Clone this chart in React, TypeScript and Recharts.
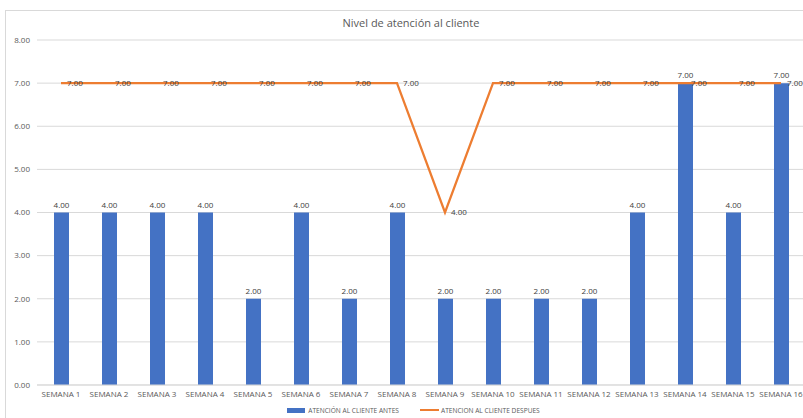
import React from 'react';
import { ComposedChart, Bar, Line, XAxis, YAxis, CartesianGrid, Legend, LabelList } from 'recharts';

const semanas = [
    'SEMANA 1', 'SEMANA 2', 'SEMANA 3', 'SEMANA 4', 'SEMANA 5', 'SEMANA 6', 'SEMANA 7', 'SEMANA 8',
    'SEMANA 9', 'SEMANA 10', 'SEMANA 11', 'SEMANA 12', 'SEMANA 13', 'SEMANA 14', 'SEMANA 15', 'SEMANA 16',
];
const antes = [4, 4, 4, 4, 2, 4, 2, 4, 2, 2, 2, 2, 4, 7, 4, 7];
const despues = [7, 7, 7, 7, 7, 7, 7, 7, 4, 7, 7, 7, 7, 7, 7, 7];
const yTicks = [0, 1, 2, 3, 4, 5, 6, 7, 8];

const data = semanas.map((name, i) => ({ name, antes: antes[i], despues: despues[i] }));

const FONT = '"Open Sans", "Liberation Sans", sans-serif';
const fmt = (v: number) => Number(v).toFixed(2);

const LegendBox = () => (
    <div style={{ display: 'flex', justifyContent: 'center', alignItems: 'center', height: 12, fontFamily: FONT, fontSize: 6.6, color: '#595959', paddingLeft: 10 }}>
        <span style={{ display: 'inline-block', width: 18, height: 5, background: '#4472C4', marginRight: 3 }} />
        <span style={{ marginRight: 21 }}>ATENCIÓN AL CLIENTE ANTES</span>
        <span style={{ display: 'inline-block', width: 19, height: 2, background: '#ED7D31', marginRight: 2 }} />
        <span>ATENCION AL CLIENTE DESPUES</span>
    </div>
);

const App: React.FC = () => (
    <div style={{ position: 'absolute', left: 0, top: 0, width: 803, height: 418, overflow: 'hidden', background: '#fff' }}>
        <div style={{ position: 'absolute', left: 5, top: 10, width: 840, height: 430, border: '1px solid #d9d9d9' }}>
            <div style={{ position: 'absolute', left: 0, top: 4, width: 810, textAlign: 'center', fontFamily: FONT, fontSize: 11, color: '#595959' }}>
                Nivel de atención al cliente
            </div>
            <ComposedChart
                width={830}
                height={407}
                data={data}
                margin={{ top: 29, right: 31, bottom: 2, left: 6 }}
                barCategoryGap="69%"
                style={{ fontFamily: FONT }}
            >
                <CartesianGrid vertical={false} stroke="#d9d9d9" />
                <XAxis
                    dataKey="name"
                    interval={0}
                    tickLine={false}
                    tickSize={0}
                    tickMargin={6}
                    height={19}
                    axisLine={{ stroke: '#d9d9d9' }}
                    tick={{ fontSize: 8, fill: '#595959' }}
                />
                <YAxis
                    domain={[0, 8]}
                    ticks={yTicks}
                    tickFormatter={fmt}
                    width={25}
                    axisLine={false}
                    tickLine={false}
                    tickSize={0}
                    tickMargin={7}
                    tick={{ fontSize: 8, fill: '#595959' }}
                />
                <Legend verticalAlign="bottom" content={() => <LegendBox />} />
                <Bar dataKey="antes" fill="#4472C4" barSize={15} isAnimationActive={false}>
                    <LabelList dataKey="antes" position="top" formatter={fmt} fontSize={8} fill="#404040" offset={5} />
                </Bar>
                <Line
                    dataKey="despues"
                    type="linear"
                    stroke="#ED7D31"
                    strokeWidth={2.25}
                    dot={false}
                    activeDot={false}
                    isAnimationActive={false}
                >
                    <LabelList dataKey="despues" position="right" formatter={fmt} fontSize={8} fill="#404040" offset={6} />
                </Line>
            </ComposedChart>
        </div>
    </div>
);

export default App;
